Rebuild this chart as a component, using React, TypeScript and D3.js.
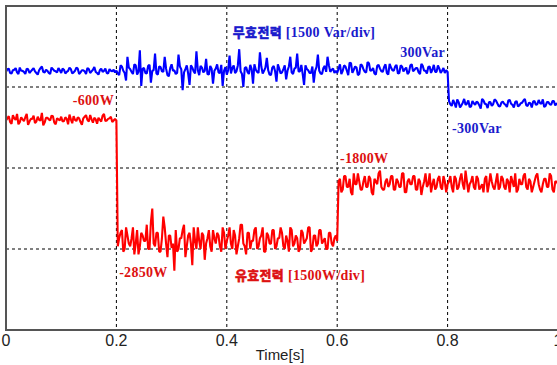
import React from "react";
import * as d3 from "d3";

const W = 557;
const H = 365;

// time axis ticks
const xTicks = [0, 0.2, 0.4, 0.6, 0.8, 1];
const xTickLabels = ["0", "0.2", "0.4", "0.6", "0.8", "1"];
// horizontal grid levels (same scale for both traces, 1500 per div)
const yGrid = [0, -1500, -3000];
const dt = 0.005;

// Reactive power (Var), samples at t = i*5 ms, i = 0..200
const reactivePowerA = [
  280, 340, 250, 320, 270, 360, 300, 240, 330, 290, 350, 260, 310, 380, 270, 300, 240, 330, 290, 350,
  260, 320, 280, 360, 250, 300, 340, 270, 310, 240, 330, 290, 370, 260, 310, 280, 340, 250, 300, 320,
  300, 220, 380, 260, 560, 330, 240, 400, 280, 20, 350, 250, 410, 300, 620, 230, 370, 280, 340, 200,
  420, 310, 260, 380, -60, 330, 250, 400, 290, 660, 220, 360, 300, 240, 390, 60, 340, 270, 410, 300,
  230, 580, 350, 260, 400, 290, 0, 370, 240, 330, 420, 280, 640, 250, 360, 310, 220, 390, 100, 340,
  270, 400, 300, 560, 240, 360, 290, 410, 40, 330, 260, 380, 300, 600, 250, 350, 280, 400, 320, 260,
  260, 420, 300, 380, 220, 440, 320, 360, 240, 400, 280, 460, 300, 350, 230, 410, 290, 370, 260, 430,
  310, 380, 250, 400, 290, 360, 270, 420, 320, 350, 240, 390, 300, 370, 260, 410, 280, 340, 300, 260,
  280,
  -320, -240, -380, -280, -340, -220, -310, -370, -260, -330, -290, -400, -250, -320, -280, -350, -230, -300, -360, -270,
  -330, -250, -310, -380, -260, -340, -290, -220, -350, -300, -270, -330, -240, -310, -370, -280, -320, -260, -340, -300,
];
// Reactive power (Var), samples at t = (i+0.5)*5 ms, i = 0..199
const reactivePowerB = [
  330, 260, 310, 350, 240, 300, 280, 340, 260, 320, 290, 230, 350, 280, 320, 260, 360, 300, 270, 310,
  340, 250, 300, 330, 270, 360, 240, 310, 290, 350, 260, 320, 280, 230, 340, 300, 260, 330, 290, 270,
  250, 400, 300, 120, 360, 280, 420, 230, 680, 340, 260, 390, 80, 310, 250, 380, 290, 560, 220, 350,
  300, 240, 600, 330, 270, 400, 40, 360, 250, 310, 390, 270, 520, 230, 340, 300, 420, 260, 20, 370,
  310, 250, 400, 290, 700, 240, 350, 280, 410, 60, 320, 260, 380, 300, 540, 230, 360, 290, 420, 250,
  330, 140, 380, 270, 340, 620, 290, 240, 400, 310, 260, 80, 370, 300, 240, 390, 560, 280, 340, 300,
  340, 240, 400, 300, 450, 260, 380, 220, 420, 330, 270, 440, 310, 250, 390, 340, 280, 420, 230, 360,
  300, 410, 260, 380, 330, 240, 400, 290, 350, 270, 430, 300, 250, 380, 320, 280, 400, 260, 350, 310,
  -260, -350, -300, -230, -380, -290, -330, -250, -360, -300, -270, -340, -220, -310, -390, -280, -320, -250, -350, -290,
  -310, -370, -240, -330, -280, -360, -300, -250, -340, -290, -380, -260, -320, -300, -230, -350, -280, -330, -260, -310,
];

// Active power (W), samples at t = i*5 ms, i = 0..200
const activePowerA = [
  -620, -540, -680, -580, -500, -650, -600, -560, -700, -590, -530, -640, -610, -480, -660, -570, -620, -540, -690, -600,
  -550, -630, -590, -510, -670, -610, -560, -650, -580, -520, -640, -600, -570, -680, -610, -530, -630, -590, -550, -620,
  -620,
  -2800, -2650, -3000, -2750, -2950, -2600, -2900, -3100, -2700, -2850, -2550, -3000, -2250, -2950, -2700, -3050, -2400, -2900, -2750,
  -2980, -3400, -3050, -2800, -2650, -3150, -2750, -2900, -2600, -3000, -2850, -2700, -3200, -2800, -2950, -2650, -2900, -2750, -3050, -2700,
  -2850, -2600, -3000, -2750, -2950, -2550, -2900, -3100, -2700, -2850, -2650, -3000, -2800, -2600, -3050, -2750, -2900, -2650, -2950, -2800,
  -2700, -3000, -2850, -2600, -2950, -2750, -3050, -2650, -2900, -2800, -2600, -3000, -2750, -2900, -2650, -2850, -3000, -2700, -2900, -2800,
  -2850,
  -1700, -1900, -1650, -1850, -1950, -1600, -1800, -1750, -1900, -1650, -1850, -1700, -2000, -1750, -1600, -1850, -1900, -1700, -1800,
  -1650, -1900, -1750, -1850, -1600, -1950, -1700, -1800, -1650, -1900, -1750, -1850, -1600, -1800, -1950, -1700, -1850, -1650, -1900, -1750,
  -1800, -1650, -1950, -1700, -1850, -1600, -1900, -1750, -1800, -1650, -1900, -1700, -1850, -1950, -1650, -1800, -1750, -1900, -1600, -1850,
  -1700, -1900, -1750, -1650, -1850, -1950, -1700, -1800, -1600, -1900, -1750, -1850, -1650, -1800, -1950, -1700, -1850, -1600, -1900, -1750, -1800,
];
// Active power (W), samples at t = (i+0.5)*5 ms, i = 0..199
const activePowerB = [
  -580, -650, -520, -610, -690, -560, -630, -500, -640, -590, -670, -550, -620, -710, -570, -600, -530, -660, -580, -620,
  -640, -560, -690, -600, -540, -630, -580, -700, -550, -610, -520, -660, -600, -570, -640, -500, -620, -580, -650, -590,
  -2950, -2700, -3050, -2600, -2900, -2800, -3100, -2650, -2950, -2750, -2850, -3000, -2500, -2900, -2700, -3050, -2800, -2600, -3150, -2750,
  -2900, -2650, -3000, -2800, -2550, -2950, -2700, -3300, -2850, -2600, -3000, -2750, -2900, -2650, -3050, -2800, -2700, -2950, -2600, -3000,
  -2750, -2900, -2650, -3100, -2800, -2550, -2950, -2700, -3000, -2850, -2600, -2950, -2750, -3050, -2700, -2900, -2650, -3000, -2800, -2600,
  -2950, -2750, -3050, -2650, -2900, -2800, -3000, -2700, -2850, -2600, -3050, -2750, -2950, -2650, -2900, -2800, -3000, -2700, -2950, -2750,
  -1750, -1950, -1650, -1850, -1700, -2000, -1800, -1600, -1900, -1750, -1850, -1650, -1950, -1700, -1800, -1550, -1900, -1750, -1850, -1650,
  -1900, -1700, -1850, -1600, -1950, -1750, -1800, -1650, -1900, -1700, -2000, -1750, -1850, -1600, -1800, -1900, -1700, -1850, -1650, -1950,
  -1750, -1850, -1650, -1900, -1700, -1800, -1550, -1950, -1750, -1850, -1650, -1900, -1800, -1700, -1950, -1600, -1850, -1750, -1900, -1650,
  -1850, -1700, -1950, -1750, -1600, -1900, -1800, -1650, -1850, -1700, -1950, -1750, -1600, -1900, -1800, -1700, -1850, -1650, -1950, -1750,
];

// annotations: text, time [s], value (Var / W)
const blueNotes = [
  { ko: "무효전력", text: " [1500 Var/div]", t: 0.411, v: 930 },
  { ko: "", text: "300Var", t: 0.714, v: 560 },
  { ko: "", text: "-300Var", t: 0.808, v: -850 },
];
const redNotes = [
  { ko: "", text: "-600W", t: 0.121, v: -335 },
  { ko: "", text: "-2850W", t: 0.205, v: -3515 },
  { ko: "", text: "-1800W", t: 0.605, v: -1405 },
  { ko: "유효전력", text: " [1500W/div]", t: 0.415, v: -3570 },
];

function interleave(a: number[], b: number[]): [number, number][] {
  const pts: [number, number][] = [];
  a.forEach((v, i) => {
    pts.push([i * dt, v]);
    if (i < b.length) pts.push([(i + 0.5) * dt, b[i]]);
  });
  return pts;
}

export default function App() {
  const left = 6, right = 558, top = 6, bottom = 330;
  const x = d3.scaleLinear().domain([0, 1]).range([left, right]);
  const y = d3.scaleLinear().domain([-4500, 1500]).range([bottom, top]);
  const line = d3
    .line<[number, number]>()
    .x((d) => x(d[0]))
    .y((d) => y(d[1]));

  const reactive = interleave(reactivePowerA, reactivePowerB);
  const active = interleave(activePowerA, activePowerB);

  const labelFont = "'Liberation Serif', 'Times New Roman', serif";
  const koFont = "'Noto Sans CJK KR', sans-serif";
  const tickFont = "'Liberation Sans Narrow', 'Liberation Sans', Arial, sans-serif";

  const renderNote = (n: { ko: string; text: string; t: number; v: number }, color: string) => (
    <text
      key={n.text}
      x={x(n.t)}
      y={y(n.v)}
      fontFamily={labelFont}
      fontWeight="bold"
      fontSize={14}
      fill={color}
      letterSpacing={0.3}
    >
      {n.ko ? (
        <tspan fontFamily={koFont} fontWeight="bold" fontSize={13} stroke={color} strokeWidth={0.6}>
          {n.ko}
        </tspan>
      ) : null}
      <tspan>{n.text}</tspan>
    </text>
  );

  return (
    <svg
      width={W}
      height={H}
      style={{ position: "absolute", left: 0, top: 0, background: "#fff" }}
    >
      <defs>
        <clipPath id="plot">
          <rect x={left} y={top} width={right - left} height={bottom - top} />
        </clipPath>
      </defs>
      <rect x={0} y={0} width={W} height={H} fill="#fff" />
      {/* grid */}
      {xTicks.slice(1, 5).map((t) => (
        <line
          key={"vx" + t}
          x1={x(t)}
          x2={x(t)}
          y1={top}
          y2={bottom}
          stroke="#000"
          strokeWidth={1}
          strokeDasharray="3,3"
        />
      ))}
      {yGrid.map((v) => (
        <line
          key={"hy" + v}
          x1={left}
          x2={right}
          y1={y(v)}
          y2={y(v)}
          stroke="#000"
          strokeWidth={1}
          strokeDasharray="3,3"
        />
      ))}
      <g clipPath="url(#plot)">
        <path d={line(active) || ""} fill="none" stroke="#ff0000" strokeWidth={2.1} strokeLinejoin="bevel" />
        <path d={line(reactive) || ""} fill="none" stroke="#0000ff" strokeWidth={2.1} strokeLinejoin="bevel" />
      </g>
      {/* frame */}
      <line x1={left} x2={left} y1={top - 1} y2={bottom + 1} stroke="#555" strokeWidth={2} />
      <line x1={left - 1} x2={W} y1={top} y2={top} stroke="#555" strokeWidth={2} />
      <line x1={left - 1} x2={W} y1={bottom} y2={bottom} stroke="#555" strokeWidth={2} />
      {/* tick labels */}
      {xTicks.map((t, i) => (
        <text
          key={"tl" + t}
          x={x(t)}
          y={346}
          textAnchor="middle"
          fontFamily={tickFont}
          fontSize={16}
          fill="#222"
        >
          {xTickLabels[i]}
        </text>
      ))}
      <text x={280} y={360} textAnchor="middle" fontFamily={tickFont} fontSize={15} fill="#222">
        Time[s]
      </text>
      {blueNotes.map((n) => renderNote(n, "#1a1acc"))}
      {redNotes.map((n) => renderNote(n, "#dd1111"))}
    </svg>
  );
}
